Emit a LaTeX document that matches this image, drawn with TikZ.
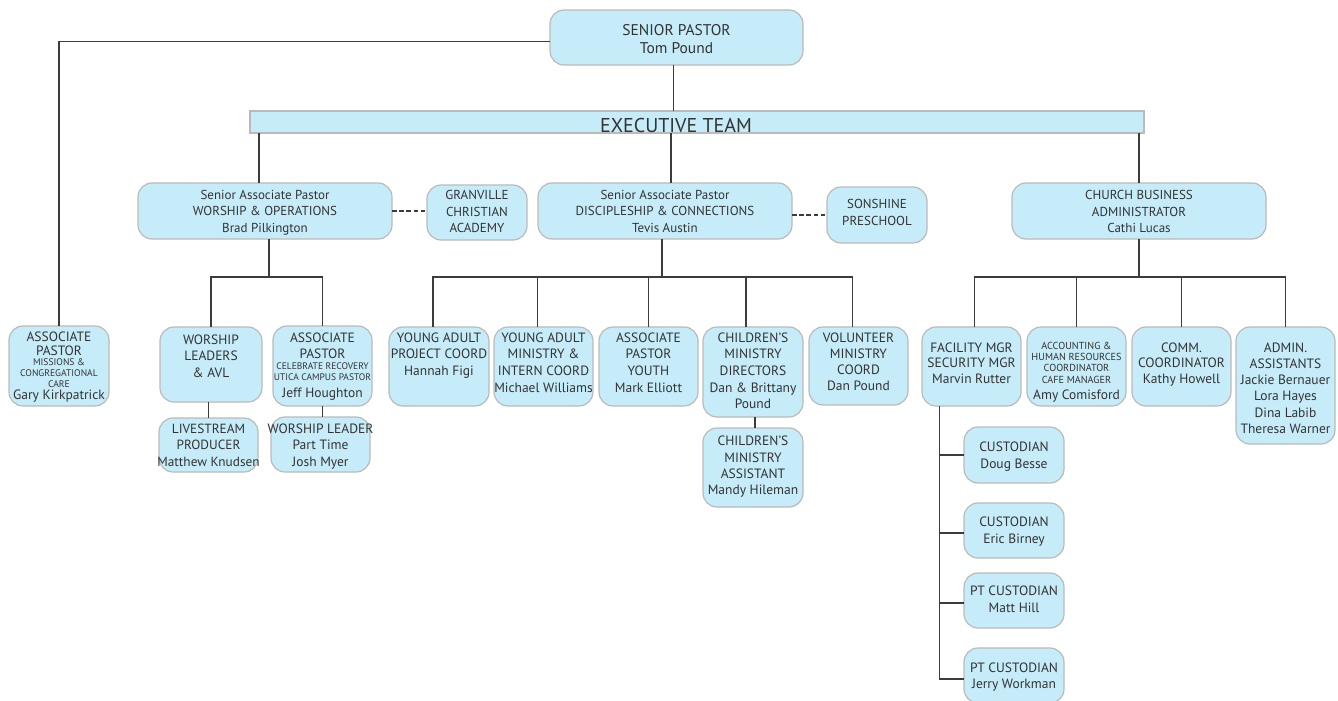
\documentclass[tikz,border=0pt]{standalone}
\usepackage{fontspec}
\setmainfont{PT Sans}
\usetikzlibrary{fit,calc}
\definecolor{boxfill}{HTML}{C6ECF9}
\definecolor{boxline}{HTML}{BABABA}
\definecolor{ink}{HTML}{333333}
\definecolor{wire}{HTML}{3C3C3C}
\tikzset{
  box/.style={draw=boxline, fill=boxfill, line width=1.2bp, rounded corners=14bp, inner sep=0pt, outer sep=0pt},
  bar/.style={draw=boxline, fill=boxfill, line width=1.2bp, inner sep=0pt, outer sep=0pt},
  txt/.style={inner sep=0pt, align=center, text=ink},
  conn/.style={draw=wire, line width=1.05bp},
  dashconn/.style={conn, dash pattern=on 4.5bp off 2.7bp},
}
% box: name, x1, y1, x2, y2
\newcommand\bx[5]{\node[box, fit={(#2,#3) (#4,#5)}] (#1) {};}
% text: name, x, first-line centre y, text, size, skip
\newcommand\tx[6]{\node[txt, font=\fontsize{#5bp}{#6bp}\selectfont, anchor=north] (#1) at (#2,{#3-0.36*#5}) {#4};}
\begin{document}
\begin{tikzpicture}[x=1bp,y=-1bp]
\useasboundingbox (0,0) rectangle (1338,700);

% ---------- boxes ----------
\bx{sp}{550}{10}{803}{65}
\node[bar, fit={(250,111) (1144,133)}] (ex) {};
\bx{wo}{138}{183}{392}{239}
\bx{gca}{427}{185}{527}{240}
\bx{tev}{538}{183}{792}{239}
\bx{son}{827}{187}{927}{243}
\bx{cba}{1012}{183}{1266}{239}
\bx{gary}{9}{326}{109}{406}
\bx{wl}{160}{327}{262}{402}
\bx{ap}{273}{326}{372}{406}
\bx{ls}{159}{418}{258}{472}
\bx{wlp}{271}{417}{370}{472}
\bx{ya1}{389}{327}{489}{406}
\bx{ya2}{494}{327}{593}{406}
\bx{ay}{599}{327}{698}{406}
\bx{ch}{703}{327}{803}{417}
\bx{cha}{703}{428}{803}{507}
\bx{vol}{809}{327}{908}{405}
\bx{fac}{922}{327}{1021}{406}
\bx{acc}{1027}{327}{1126}{406}
\bx{com}{1132}{327}{1231}{406}
\bx{adm}{1236}{327}{1335}{444}
\bx{cu1}{964}{427}{1064}{483}
\bx{cu2}{964}{503}{1064}{558}
\bx{cu3}{964}{573}{1064}{628}
\bx{cu4}{964}{648}{1064}{703}

% ---------- connectors ----------
\coordinate (bus) at (0,277);
\draw[conn] ([yshift=-4bp]sp.west) -| (gary.north);
\draw[conn] ([xshift=-3bp]sp.south) -- ([xshift=-3bp]sp.south |- ex.north);
\draw[conn] ([xshift=-6bp]wo.north) -- ([xshift=-6bp]wo.north |- ex.south);
\draw[conn] ([xshift=6bp]tev.north) -- ([xshift=6bp]tev.north |- ex.south);
\draw[conn] (cba.north) -- (cba.north |- ex.south);
\draw[dashconn] (wo.east) -- (wo.east -| gca.west);
\draw[dashconn] (son.west -| tev.east) -- (son.west);
% worship branch
\draw[conn] ([xshift=4bp]wo.south) -- ([xshift=4bp]wo.south |- bus);
\draw[conn] (wl.north) |- (ap.north |- bus) -- (ap.north);
\draw[conn] (ls.north) -- (ls.north |- wl.south);
\draw[conn] (ap.south) -- (ap.south |- wlp.north);
% discipleship branch
\draw[conn] ([xshift=-3bp]tev.south) -- ([xshift=-3bp]tev.south |- bus);
\draw[conn] ([xshift=-6bp]ya1.north) |- ([xshift=-6bp]vol.north |- bus) -- ([xshift=-6bp]vol.north);
\draw[conn] ([xshift=-6bp]ya2.north) -- ([xshift=-6bp]ya2.north |- bus);
\draw[conn] (ay.north) -- (ay.north |- bus);
\draw[conn] ([xshift=-7bp]ch.north) -- ([xshift=-7bp]ch.north |- bus);
\draw[conn] ([xshift=2bp]cha.north) -- ([xshift=2bp]cha.north |- ch.south);
% business branch
\draw[conn] (cba.south) -- (cba.south |- bus);
\draw[conn] ([xshift=3bp]fac.north) |- (adm.north |- bus) -- (adm.north);
\draw[conn] (acc.north) -- (acc.north |- bus);
\draw[conn] (com.north) -- (com.north |- bus);
\coordinate (trunk) at ([xshift=-32bp]fac.south);
\draw[conn] (trunk) |- ([yshift=-3.5bp]cu4.west);
\draw[conn] (cu1.west) -- (cu1.west -| trunk);
\draw[conn] ([yshift=-2.5bp]cu2.west) -- ([yshift=-2.5bp]cu2.west -| trunk);
\draw[conn] ([yshift=-2.5bp]cu3.west) -- ([yshift=-2.5bp]cu3.west -| trunk);

% ---------- texts ----------
\tx{t-sp}{676.5}{30}{SENIOR PASTOR\\Tom Pound}{15.5}{18.3}
\tx{t-ex}{676}{125.3}{EXECUTIVE TEAM}{20}{22}
\tx{t-wo}{265}{194.3}{Senior Associate Pastor\\WORSHIP \& OPERATIONS\\Brad Pilkington}{13}{16.7}
\tx{t-gca}{477}{195}{GRANVILLE\\CHRISTIAN\\ACADEMY}{13}{16.5}
\tx{t-tev}{665}{194.3}{Senior Associate Pastor\\DISCIPLESHIP \& CONNECTIONS\\Tevis Austin}{13}{16.7}
\tx{t-son}{877}{204}{SONSHINE\\PRESCHOOL}{13}{16.5}
\tx{t-cba}{1139}{195}{CHURCH BUSINESS\\ADMINISTRATOR\\Cathi Lucas}{13}{16.3}

\tx{t-gary1}{59}{336.7}{ASSOCIATE\\PASTOR}{13.5}{14}
\tx{t-gary2}{59}{362.3}{MISSIONS \&\\CONGREGATIONAL\\CARE}{9.6}{11}
\tx{t-gary3}{59}{395}{Gary Kirkpatrick}{13.5}{16}

\tx{t-wl}{211}{339.3}{WORSHIP\\LEADERS\\\& AVL}{13.5}{16.7}
\tx{t-ap1}{322.5}{337.3}{ASSOCIATE\\PASTOR}{13.5}{16}
\tx{t-ap2}{322.5}{366}{CELEBRATE RECOVERY\\UTICA CAMPUS PASTOR}{9.5}{10.7}
\tx{t-ap3}{322.5}{392.7}{Jeff Houghton}{13.5}{16}
\tx{t-ls}{208.5}{428.3}{LIVESTREAM\\PRODUCER\\Matthew Knudsen}{13.3}{16.7}
\tx{t-wlp}{320.5}{428.3}{WORSHIP LEADER\\Part Time\\Josh Myer}{13.5}{16.7}

\tx{t-ya1}{439}{337.3}{YOUNG ADULT\\PROJECT COORD\\Hannah Figi}{13.5}{16.4}
\tx{t-ya2}{543.5}{337.3}{YOUNG ADULT\\MINISTRY \&\\INTERN COORD\\Michael Williams}{13.5}{16.7}
\tx{t-ay}{648.5}{337.3}{ASSOCIATE\\PASTOR\\YOUTH\\Mark Elliott}{13.5}{16.7}
\tx{t-ch}{753}{337.3}{CHILDREN’S\\MINISTRY\\DIRECTORS\\Dan \& Brittany\\Pound}{13.5}{16.6}
\tx{t-cha}{753}{440.7}{CHILDREN’S\\MINISTRY\\ASSISTANT\\Mandy Hileman}{13.5}{16.4}
\tx{t-vol}{858.5}{337.3}{VOLUNTEER\\MINISTRY\\COORD\\Dan Pound}{13.5}{16.2}

\tx{t-fac}{971.5}{347.3}{FACILITY MGR\\SECURITY MGR\\Marvin Rutter}{13.5}{15.5}
\tx{t-acc1}{1076.5}{345.7}{ACCOUNTING \&\\HUMAN RESOURCES\\COORDINATOR\\CAFE MANAGER}{10.2}{11.2}
\tx{t-acc2}{1076.5}{395}{Amy Comisford}{13.5}{16}
\tx{t-com}{1181.5}{347.3}{COMM.\\COORDINATOR\\Kathy Howell}{13.5}{15.5}
\tx{t-adm}{1285.5}{347.3}{ADMIN.\\ASSISTANTS\\Jackie Bernauer\\Lora Hayes\\Dina Labib\\Theresa Warner}{13.5}{16.2}

\tx{t-cu1}{1014}{446.7}{CUSTODIAN\\Doug Besse}{13.5}{16.6}
\tx{t-cu2}{1014}{521.7}{CUSTODIAN\\Eric Birney}{13.5}{16.6}
\tx{t-cu3}{1014}{590.7}{PT CUSTODIAN\\Matt Hill}{13.5}{16.6}
\tx{t-cu4}{1014}{667.3}{PT CUSTODIAN\\Jerry Workman}{13.5}{16.6}
\end{tikzpicture}
\end{document}
